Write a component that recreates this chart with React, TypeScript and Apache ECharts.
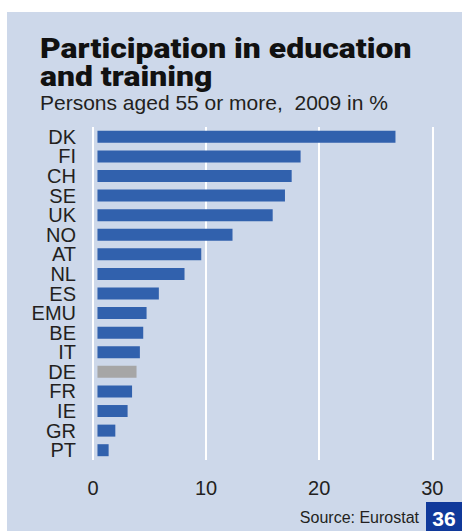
import React, { useEffect, useRef } from "react";
import * as echarts from "echarts";

const categories = ["DK", "FI", "CH", "SE", "UK", "NO", "AT", "NL", "ES", "EMU", "BE", "IT", "DE", "FR", "IE", "GR", "PT"];
const values = [26.7, 18.2, 17.4, 16.8, 15.7, 12.1, 9.3, 7.8, 5.5, 4.4, 4.1, 3.8, 3.5, 3.1, 2.7, 1.6, 1.0];
const highlighted = ["DE"];
const xTicks = [0, 10, 20, 30];

const titleLines = ["Participation in education", "and training"];
const subtitle = "Persons aged 55 or more,  2009 in %";
const source = "Source: Eurostat";
const pageNumber = "36";

const BLUE = "#3161ad";
const GREY = "#a6a6a6";
const BG = "#cdd8ea";
const TEXT = "#231f20";
const FONT = "'Liberation Sans', Arial, sans-serif";
const TITLE_FONT = "900 28px Roboto, 'Liberation Sans', sans-serif";

export default function App() {
  const ref = useRef<HTMLDivElement>(null);
  useEffect(() => {
    if (!ref.current) return;
    const chart = echarts.init(ref.current, null, { renderer: "svg" });
    chart.setOption({
      animation: false,
      backgroundColor: "#ffffff",
      textStyle: { fontFamily: FONT },
      grid: { left: 93, top: 127, width: 339.3, height: 333, containLabel: false },
      xAxis: [
        {
          type: "value",
          min: xTicks[0],
          max: xTicks[xTicks.length - 1],
          interval: 10,
          axisLine: { show: false },
          axisTick: { show: false },
          splitLine: { show: true, lineStyle: { color: "#ffffff", width: 2 } },
          axisLabel: { color: TEXT, fontSize: 20, margin: 18, fontFamily: FONT },
        },
        {
          type: "value",
          show: false,
          min: -0.4,
          max: 30,
          splitLine: { show: false },
        },
      ],
      yAxis: {
        type: "category",
        data: categories,
        inverse: true,
        axisLine: { show: false },
        axisTick: { show: false },
        splitLine: { show: false },
        axisLabel: { color: TEXT, fontSize: 20, margin: 17, interval: 0, fontFamily: FONT, lineHeight: 19 },
      },
      series: [
        {
          type: "bar",
          xAxisIndex: 1,
          barWidth: 12,
          data: categories.map((c, i) => ({
            value: values[i],
            itemStyle: { color: highlighted.includes(c) ? GREY : BLUE },
          })),
        },
      ],
      graphic: [
        { type: "rect", z: -100, shape: { x: 7, y: 12, width: 455, height: 519 }, style: { fill: BG } },
        {
          type: "text",
          x: 40,
          y: 34,
          scaleX: 1.14,
          style: { text: titleLines[0], font: TITLE_FONT, fill: "#111111", textVerticalAlign: "top" },
        },
        {
          type: "text",
          x: 40,
          y: 62,
          scaleX: 1.14,
          style: { text: titleLines[1], font: TITLE_FONT, fill: "#111111", textVerticalAlign: "top" },
        },
        {
          type: "text",
          x: 40,
          y: 92,
          style: { text: subtitle, font: `21px ${FONT}`, fill: TEXT, textVerticalAlign: "top" },
        },
        {
          type: "text",
          x: 419,
          y: 525,
          style: { text: source, font: `16px ${FONT}`, fill: TEXT, textAlign: "right", textVerticalAlign: "bottom" },
        },
        { type: "rect", shape: { x: 426, y: 502, width: 36, height: 29 }, style: { fill: "#10399a" } },
        {
          type: "text",
          x: 444,
          y: 518,
          style: {
            text: pageNumber,
            font: `bold 21px ${FONT}`,
            fill: "#ffffff",
            textAlign: "center",
            textVerticalAlign: "middle",
          },
        },
      ],
    });
    return () => chart.dispose();
  }, []);
  return <div ref={ref} style={{ position: "fixed", left: 0, top: 0, width: 462, height: 531 }} />;
}
